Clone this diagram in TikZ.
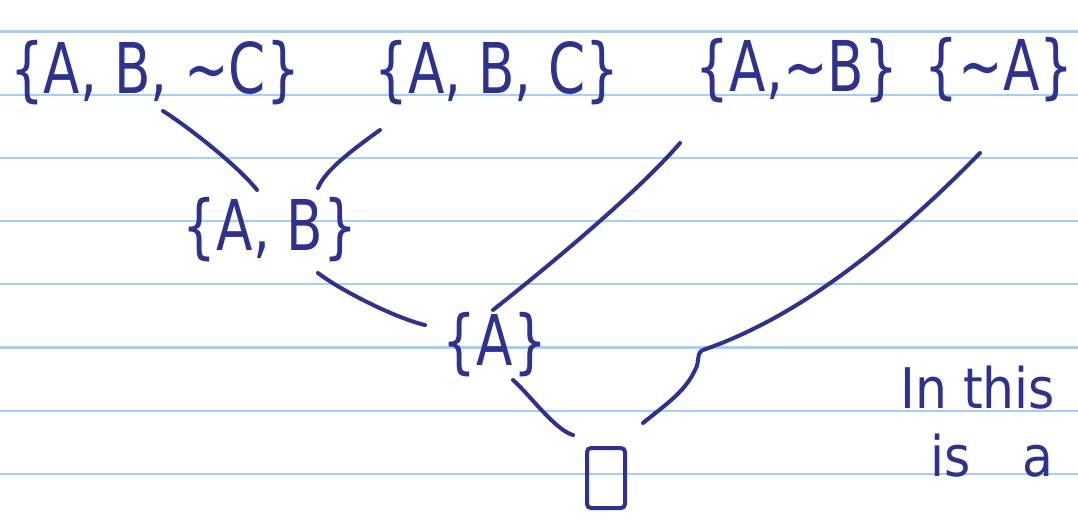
\documentclass[tikz,border=0pt]{standalone}
\usepackage{fontspec}
\setmainfont{DejaVu Sans}
\definecolor{ink}{HTML}{2E3192}
\definecolor{rule}{HTML}{A6CEFA}
\newcommand{\hs}[1]{\scalebox{0.76}[1]{#1}}
\newcommand{\hsb}[1]{\scalebox{0.9}[1]{#1}}
\tikzset{
  hw/.style={text=ink, inner sep=0pt, anchor=base, font=\fontsize{70}{76}\selectfont},
  small/.style={text=ink, inner sep=0pt, anchor=base west, font=\fontsize{56}{60}\selectfont},
  conn/.style={draw=ink, line width=4pt, line cap=round, line join=round},
  ruleline/.style={draw=rule, line width=2.2pt},
  emptybox/.style={draw=ink, line width=4pt, minimum width=38pt, minimum height=60pt, inner sep=0pt, rounded corners=4pt}
}
\begin{document}
\begin{tikzpicture}[x=1pt, y=-1pt]
\fill[white] (0,0) rectangle (1078,517);
\useasboundingbox (0,0) rectangle (1078,517);
\foreach \k in {0,...,7} {
  \draw[ruleline] (0,{31.5+63.2*\k}) -- (1078,{31.5+63.2*\k});
}
\node[hw] (n1) at (155,93) {\hs{\{A, B, ∼C\}}};
\node[hw] (n2) at (497,93) {\hs{\{A, B, C\}}};
\node[hw] (n3) at (797,91) {\hs{\{A,∼B\}}};
\node[hw] (n4) at (999,90) {\hs{\{∼A\}}};
\node[hw] (n5) at (270,250) {\hs{\{A, B\}}};
\node[hw] (n6) at (495,365) {\hs{\{A\}}};
\node[emptybox] (e) at (606,478) {};
\node[small] (t1) at (900,408) {\hsb{In this}};
\node[small] (t2) at (930,476) {\hsb{is \hspace{22pt} a}};

\draw[conn] ([shift={(8,18)}]n1.base) .. controls (190,128) and (240,168) .. ([shift={(-13,-60)}]n5.base);
\draw[conn] ([shift={(-117,37)}]n2.base) .. controls (355,148) and (325,170) .. ([shift={(48,-62)}]n5.base);
\draw[conn] ([shift={(-117,52)}]n3.base) .. controls (640,190) and (550,265) .. ([shift={(-2,-55)}]n6.base);
\draw[conn] ([shift={(-19,63)}]n4.base) .. controls (880,255) and (790,320) .. (703,350)
   .. controls (696,353) and (700,362) .. (695,370)
   .. controls (685,392) and (665,405) .. ([shift={(37,-55)}]e.center);
\draw[conn] ([shift={(48,23)}]n5.base) .. controls (340,290) and (395,318) .. ([shift={(-70,-40)}]n6.base);
\draw[conn] ([shift={(18,15)}]n6.base) .. controls (530,395) and (555,430) .. ([shift={(-33,-43)}]e.center);
\end{tikzpicture}
\end{document}
